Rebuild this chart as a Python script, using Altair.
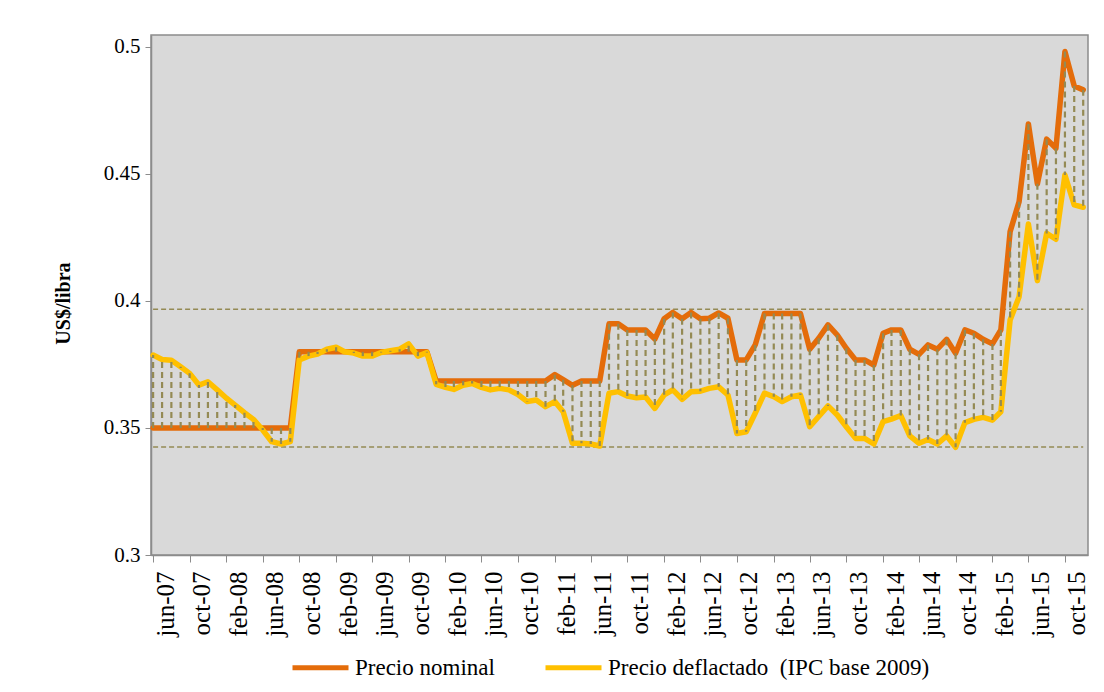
import altair as alt
import pandas as pd

# Monthly categories: jun-07 .. dec-15
fechas = pd.date_range("2007-06-01", periods=103, freq="MS").strftime("%Y-%m-%d").tolist()

precio_nominal = [
    0.35, 0.35, 0.35, 0.35, 0.35, 0.35, 0.35, 0.35, 0.35, 0.35,
    0.35, 0.35, 0.35, 0.35, 0.35, 0.35, 0.38, 0.38, 0.38, 0.38,
    0.38, 0.38, 0.38, 0.38, 0.38, 0.38, 0.38, 0.38, 0.38, 0.38,
    0.38, 0.3685, 0.3685, 0.3685, 0.3685, 0.3685, 0.3685, 0.3685, 0.3685, 0.3685,
    0.3685, 0.3685, 0.3685, 0.3685, 0.371, 0.369, 0.3668, 0.3685, 0.3685, 0.3685,
    0.391, 0.391, 0.3886, 0.3886, 0.3886, 0.385, 0.393, 0.3955, 0.393, 0.3955,
    0.393, 0.3932, 0.3953, 0.3932, 0.3768, 0.3768, 0.3827, 0.3951, 0.3951, 0.3951,
    0.3951, 0.3951, 0.381, 0.3853, 0.3906, 0.3866, 0.3814, 0.3768, 0.3768, 0.3748,
    0.3873, 0.3886, 0.3886, 0.381, 0.379, 0.3827, 0.381, 0.3849, 0.3794, 0.3886,
    0.3873, 0.3849, 0.3831, 0.3886, 0.4273, 0.4391, 0.4697, 0.4461, 0.4637, 0.4601,
    0.4982, 0.4846, 0.4831,
]

precio_deflactado = [
    0.3787, 0.377, 0.3767, 0.3741, 0.3715, 0.3669, 0.3682, 0.365, 0.3617, 0.359,
    0.356, 0.3534, 0.3492, 0.3446, 0.3437, 0.3446, 0.3768, 0.3783, 0.3791, 0.381,
    0.3818, 0.380, 0.3795, 0.3783, 0.3783, 0.3797, 0.3804, 0.381, 0.3831, 0.3783,
    0.3797, 0.3672, 0.366, 0.3652, 0.3668, 0.3675, 0.366, 0.365, 0.3656, 0.365,
    0.3632, 0.3604, 0.361, 0.3584, 0.3604, 0.3564, 0.344, 0.344, 0.3437, 0.3429,
    0.3637, 0.3643, 0.3626, 0.3619, 0.3622, 0.3577, 0.363, 0.365, 0.3613, 0.3643,
    0.3645, 0.3656, 0.3662, 0.363, 0.3478, 0.3485, 0.3558, 0.3637, 0.3623, 0.3604,
    0.3623, 0.363, 0.3505, 0.3545, 0.3587, 0.3551, 0.3505, 0.3459, 0.3459, 0.3437,
    0.3525, 0.3535, 0.3549, 0.3469, 0.344, 0.3455, 0.3437, 0.3469, 0.3424, 0.3521,
    0.3534, 0.3542, 0.3531, 0.3564, 0.3925, 0.4017, 0.4303, 0.408, 0.4266, 0.4243,
    0.4496, 0.4378, 0.4369,
]

lineas_ref = [0.3967, 0.3425]

series = ["Precio nominal", "Precio deflactado\u00a0 (IPC base 2009)"]
colores = ["#E46C0A", "#FFC000"]
meses_es = ["ene", "feb", "mar", "abr", "may", "jun", "jul", "ago", "sep", "oct", "nov", "dic"]

# tick every 4 months from jun-07
tick_ms = [int(pd.Timestamp(f).value // 10**6) for f in fechas[::4]]
dom_ms = [int(pd.Timestamp("2007-05-25").value // 10**6),
          int(pd.Timestamp("2015-12-17").value // 10**6)]

df_long = pd.DataFrame({
    "fecha": fechas * 2,
    "serie": [series[0]] * len(fechas) + [series[1]] * len(fechas),
    "valor": precio_nominal + precio_deflactado,
})
df_wide = pd.DataFrame({"fecha": fechas, "valor": precio_nominal, "valor2": precio_deflactado})
df_ref = pd.DataFrame({"fecha": [fechas[0]] * 2, "fecha2": [fechas[-1]] * 2, "valor": lineas_ref})

label_expr = ("['" + "','".join(meses_es) + "'][utcmonth(datum.value)] + '-' + "
              "utcFormat(datum.value, '%y')")

x_enc = alt.X(
    "fecha:T",
    scale=alt.Scale(type="utc", domain=dom_ms),
    axis=alt.Axis(
        values=tick_ms, labelExpr=label_expr, labelAngle=270, labelAlign="right",
        labelBaseline="top", labelPadding=9, tickSize=7, title=None,
        labelFontSize=25, labelColor="black", labelFont="Liberation Serif",
        tickColor="#8C8C8C", domainColor="#8C8C8C", domainWidth=1.5, grid=False,
        labelOverlap=False,
    ),
)
y_enc = alt.Y(
    "valor:Q",
    scale=alt.Scale(domain=[0.3, 0.5047], nice=False, zero=False),
    axis=alt.Axis(
        values=[0.3, 0.35, 0.4, 0.45, 0.5], format="~g", title="US$/libra",
        titleFontWeight="bold", titleFontSize=20, titleFont="Liberation Serif",
        titleColor="black", titleX=-88, titleY=268, titleBaseline="middle",
        labelFontSize=21, labelColor="black", labelFont="Liberation Serif",
        labelPadding=5, tickSize=6, tickColor="#8C8C8C", domainColor="#8C8C8C",
        domainWidth=1.5, grid=False,
    ),
)

color_enc = alt.Color(
    "serie:N",
    scale=alt.Scale(domain=series, range=colores),
    legend=alt.Legend(
        orient="none", legendX=139, legendY=602, direction="horizontal",
        symbolType="stroke", symbolSize=3136, symbolStrokeWidth=5,
        labelFontSize=23, labelFont="Liberation Serif", labelColor="black",
        columnPadding=40, labelOffset=4, title=None, labelLimit=0,
    ),
)

ref = alt.Chart(df_ref).mark_rule(color="#948A54", strokeWidth=1.5, strokeDash=[5, 3]).encode(
    x=x_enc, x2="fecha2", y=y_enc
)

nom = alt.Chart(df_long).transform_filter(
    alt.datum.serie == series[0]
).mark_line(strokeWidth=5.5, strokeJoin="round", strokeCap="round").encode(
    x=x_enc, y=y_enc, color=color_enc
)
defl = alt.Chart(df_long).transform_filter(
    alt.datum.serie == series[1]
).mark_line(strokeWidth=5.5, strokeJoin="round", strokeCap="round").encode(
    x=x_enc, y=y_enc, color=color_enc
)

drops = alt.Chart(df_wide).mark_rule(color="#948A54", strokeWidth=2.2, strokeDash=[6, 4]).encode(
    x=x_enc, y=y_enc, y2="valor2"
)

chart = alt.layer(ref, nom, defl, drops).properties(
    width=937, height=520,
    autosize=alt.AutoSizeParams(type="none"),
    padding={"left": 143, "top": 27, "right": 8, "bottom": 125},
).configure(font="Liberation Serif").configure_view(
    fill="#D9D9D9", stroke="#8C8C8C", strokeWidth=1.5
)

chart.save("out.html", embed_options={"renderer": "svg", "actions": False})
